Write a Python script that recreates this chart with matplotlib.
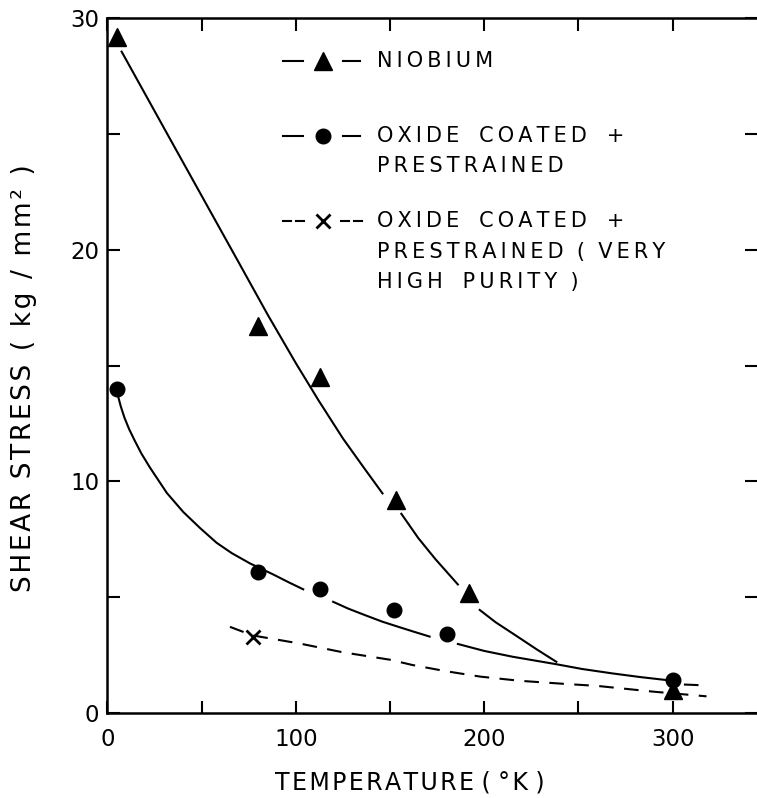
import numpy as np
import matplotlib
matplotlib.use("Agg")
import matplotlib.pyplot as plt

plt.rcParams['font.family'] = ['DejaVu Sans']

# measured points
nb_temp = [5, 80, 113, 153, 192, 300]
nb_stress = [29.2, 16.7, 14.5, 9.2, 5.2, 1.0]

ox_temp = [5, 80, 113, 152, 180, 300]
ox_stress = [14.0, 6.1, 5.35, 4.45, 3.4, 1.42]

hp_temp = [77]
hp_stress = [3.3]

# hand drawn curves (nan = break in the line)
nb_curve_x = [7.5, 30, 49, 70, 85, 100, 112, 125, 136, 146, np.nan, 156, 165, 174, 186, np.nan,
              197.6, 206, 215, 228, 238.3]
nb_curve_y = [28.55, 25.25, 22.47, 19.4, 17.2, 15.1, 13.5, 11.85, 10.6, 9.48, np.nan, 8.6, 7.55, 6.65, 5.55, np.nan,
              4.45, 3.92, 3.44, 2.74, 2.21]

ox_curve_x = [5.7, 7.0, 9.0, 11.5, 14.5, 18, 22.5, 31.5, 40.2, 49.2, 57.9, 66, 75.6, 88, 96, 103.9, np.nan,
              119.8, 128, 137.5, 146, 155.2, 163, 171, np.nan,
              186, 200, 215, 238, 252, 268, 283, 297]
ox_curve_y = [13.65, 13.25, 12.75, 12.25, 11.75, 11.2, 10.6, 9.5, 8.68, 7.98, 7.35, 6.9, 6.46, 5.98, 5.65, 5.34, np.nan,
              4.8, 4.5, 4.2, 3.94, 3.7, 3.5, 3.3, np.nan,
              2.98, 2.68, 2.43, 2.11, 1.9, 1.71, 1.55, 1.42]
ox_tail_x = [306, 318]
ox_tail_y = [1.23, 1.19]

hp_curve_x = [65, 77, 102, 125, 150, 162, 180, 198, 219, 244, 260, 290, 318]
hp_curve_y = [3.72, 3.35, 3.0, 2.62, 2.3, 2.07, 1.8, 1.57, 1.39, 1.25, 1.17, 0.92, 0.72]


def spaced(s, sep, words=True):
    # letter spacing like the hand lettering of the original
    if not words:
        return sep.join(s)
    return ' '.join(sep.join(w) for w in s.split(' '))


fig = plt.figure(figsize=(7.57, 7.98), dpi=100)
ax = fig.add_axes([0.1420, 0.1065, 0.8580, 0.8709])

lw = 1.5
dash = (7, 5)
ax.plot(nb_curve_x, nb_curve_y, color='black', lw=lw)
ax.plot(ox_curve_x, ox_curve_y, color='black', lw=lw)
ax.plot(ox_tail_x, ox_tail_y, color='black', lw=lw, dashes=dash)
ax.plot(hp_curve_x, hp_curve_y, color='black', lw=lw, dashes=dash)

ax.plot(nb_temp, nb_stress, ls='none', marker='^', ms=13.5, color='black', clip_on=False, zorder=5)
ax.plot(ox_temp, ox_stress, ls='none', marker='o', ms=10.5, color='black', clip_on=False, zorder=5)
ax.plot(hp_temp, hp_stress, ls='none', marker='x', ms=10, mew=2, color='black', zorder=5)

ax.set_xlim(0, 344.8)
ax.set_ylim(0, 30)
ax.set_xticks([0, 100, 200, 300])
ax.set_xticklabels(['0', '100', '200', '300'])
ax.set_xticks([50, 150, 250], minor=True)
ax.set_yticks([0, 10, 20, 30])
ax.set_yticks([5, 15, 25], minor=True)

ax.spines['right'].set_visible(False)
for s in ['left', 'top', 'bottom']:
    ax.spines[s].set_linewidth(1.8)

ax.tick_params(which='both', direction='in', length=9, width=1.5,
               top=True, right=True, labelsize=16.5)
ax.tick_params(axis='x', which='major', pad=11)
ax.tick_params(axis='y', which='major', pad=6)

ax.set_xlabel(spaced('TEMPERATURE ( °K )', '\u200a'), fontsize=17)
ax.xaxis.set_label_coords(0.466, -0.082)
ax.set_ylabel(spaced('SHEAR STRESS ( kg / mm² )', '\u200a', words=False), fontsize=19)
ax.yaxis.set_label_coords(-0.108, 0.482)

# legend, drawn by hand
tr = ax.transAxes
legend_rows = [
    ('^', ['NIOBIUM'], 0.938),
    ('o', ['OXIDE   COATED   +', 'PRESTRAINED'], 0.830),
    ('x', ['OXIDE   COATED   +', 'PRESTRAINED  (  VERY', 'HIGH   PURITY  )'], 0.7075),
]
line_step = 0.0435
for marker, lines, y in legend_rows:
    if marker == 'x':
        for x0, x1 in [(0.270, 0.282), (0.290, 0.302), (0.360, 0.372), (0.380, 0.392)]:
            ax.plot([x0, x1], [y, y], color='black', lw=lw, transform=tr, clip_on=False)
        ax.plot([0.3313], [y], marker='x', ms=10, mew=2, color='black', transform=tr, clip_on=False)
    else:
        for x0, x1 in [(0.2696, 0.3005), (0.3621, 0.3883)]:
            ax.plot([x0, x1], [y, y], color='black', lw=lw, transform=tr, clip_on=False)
        ms = 13.5 if marker == '^' else 10.5
        ax.plot([0.3313], [y], marker=marker, ms=ms, color='black', transform=tr, clip_on=False)
    for i, txt in enumerate(lines):
        ax.text(0.4145, y - i * line_step, spaced(txt, '\u2009'), transform=tr, fontsize=15,
                ha='left', va='center')

fig.savefig('out.png', dpi=100)
